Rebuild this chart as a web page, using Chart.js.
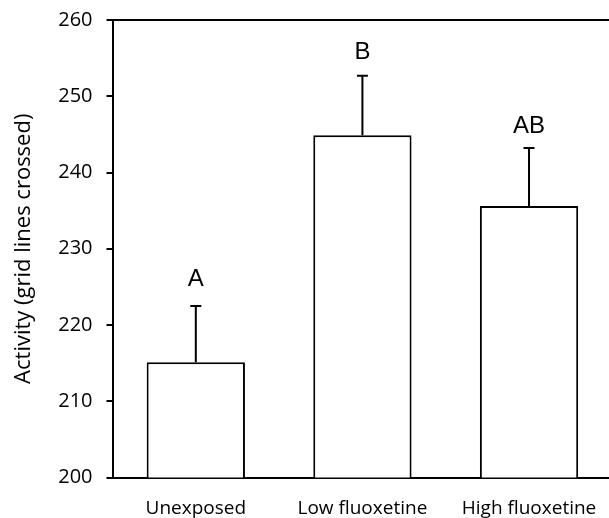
<!DOCTYPE html>
<html>
<head>
<meta charset="utf-8">
<script src="https://cdn.jsdelivr.net/npm/chart.js@4"></script>
<style>
  html, body { margin: 0; padding: 0; background: #fff; }
  #wrap { width: 609px; height: 518px; }
</style>
</head>
<body>
<div id="wrap"><canvas id="myChart"></canvas></div>
<script>
const groups = ["Unexposed", "Low fluoxetine", "High fluoxetine"];
const activity = [215.1, 244.9, 235.6];
const errorTop = [222.5, 252.7, 243.2];
const letters = ["A", "B", "AB"];
const letterY = [226.0, 255.7, 246.1];
const yTicks = [200, 210, 220, 230, 240, 250, 260];

// error bars and significance letters, placed through the chart scales
const errorBars = {
    id: "errorBars",
    afterDatasetsDraw(chart) {
        const ctx = chart.ctx;
        const y = chart.scales.y;
        const bars = chart.getDatasetMeta(0).data;
        ctx.save();
        ctx.strokeStyle = "#000";
        ctx.lineWidth = 2;
        bars.forEach((bar, i) => {
            const top = y.getPixelForValue(errorTop[i]);
            const base = y.getPixelForValue(activity[i]);
            ctx.beginPath();
            ctx.moveTo(bar.x, base);
            ctx.lineTo(bar.x, top);
            ctx.moveTo(bar.x - 5.5, top);
            ctx.lineTo(bar.x + 5.5, top);
            ctx.stroke();

            ctx.fillStyle = "#000";
            ctx.font = "24px 'Liberation Sans', Arial, sans-serif";
            ctx.textAlign = "center";
            ctx.textBaseline = "middle";
            ctx.fillText(letters[i], bar.x, y.getPixelForValue(letterY[i]));
        });
        ctx.restore();
    },
};

new Chart("myChart", {
    type: "bar",
    data: {
        datasets: [
            {
                label: "Activity",
                data: activity.map((v, i) => ({ x: i, y: v })),
                backgroundColor: "#fff",
                borderColor: "#000",
                borderWidth: 2,
                barPercentage: 0.59,
                categoryPercentage: 1,
            },
        ],
    },
    options: {
        responsive: true,
        maintainAspectRatio: false,
        animation: false,
        layout: { padding: 0 },
        plugins: {
            legend: { display: false },
            tooltip: { enabled: false },
        },
        scales: {
            x: {
                type: "linear",
                position: "bottom",
                offset: false,
                min: -0.5,
                max: 2.48,
                afterBuildTicks: (scale) => {
                    scale.ticks = groups.map((g, i) => ({ value: i }));
                },
                afterFit: (scale) => {
                    scale.height = 40.5;
                    scale.paddingLeft = 0;
                    scale.paddingRight = 0;
                },
                grid: { display: false, drawTicks: false },
                border: { display: true, color: "#000", width: 2 },
                ticks: {
                    autoSkip: false,
                    maxRotation: 0,
                    padding: 20,
                    color: "#000",
                    font: { family: "'Open Sans'", size: 19 },
                    callback: (v) => groups[v],
                },
            },
            x2: {
                type: "linear",
                position: "top",
                offset: false,
                min: 0,
                max: 1,
                afterFit: (scale) => { scale.height = 20; },
                grid: { display: false },
                border: { display: true, color: "#000", width: 2 },
                ticks: { display: false },
            },
            y: {
                min: 200,
                max: 260,
                afterBuildTicks: (scale) => {
                    scale.ticks = yTicks.map((v) => ({ value: v }));
                },
                afterFit: (scale) => {
                    scale.width = 112.5;
                    scale.paddingTop = 12;
                    scale.paddingBottom = 12;
                },
                grid: {
                    drawOnChartArea: false,
                    drawTicks: true,
                    tickLength: 6,
                    color: "#000",
                    lineWidth: 2,
                },
                border: { display: true, color: "#000", width: 2 },
                ticks: {
                    padding: 14,
                    color: "#000",
                    font: { family: "'Open Sans'", size: 20 },
                },
                title: {
                    display: true,
                    text: "Activity (grid lines crossed)",
                    color: "#000",
                    font: { family: "'Open Sans'", size: 22 },
                    padding: { top: 11, bottom: 0 },
                },
            },
        },
    },
    plugins: [errorBars],
});
</script>
</body>
</html>
